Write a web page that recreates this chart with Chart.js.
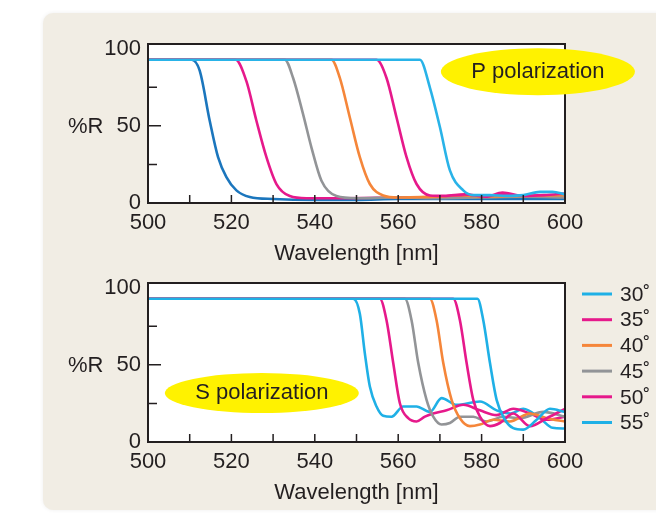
<!DOCTYPE html>
<html>
<head>
<meta charset="utf-8">
<script src="https://cdn.jsdelivr.net/npm/chart.js@4.4.1/dist/chart.umd.min.js"></script>
<style>
  html, body { margin: 0; padding: 0; background: #fff; }
  body { width: 656px; height: 513px; position: relative; overflow: hidden; }
  #panel { position: absolute; left: 43px; top: 13px; width: 640px; height: 497px;
           background: #f1ede4; border-radius: 10px; box-shadow: 0 0 4px rgba(0,0,0,0.07); }
  canvas { position: absolute; left: 0; }
  #pChart { top: 0; }
  #sChart { top: 239px; }
</style>
</head>
<body>
<div id="panel"></div>
<canvas id="pChart" width="656" height="270"></canvas>
<canvas id="sChart" width="656" height="270"></canvas>
<script>
const angles = ["30˚", "35˚", "40˚", "45˚", "50˚", "55˚"];
const xTicks = [500, 520, 540, 560, 580, 600];
const yTicks = [0, 50, 100];

// P polarization, wavelength [nm] and %R per angle
const pWl30 = [500, 565.2, 567.6, 570, 572.4, 575.6, 578, 582, 586, 590, 594, 597, 600];
const pR30  = [92.8, 92.8, 74.8, 49.2, 21.1, 8.2, 5.1, 5.1, 4.6, 5.1, 7.2, 7.2, 5.6];
const pWl35 = [500, 554.8, 557.2, 559.6, 562, 564.4, 567.6, 571, 576, 581, 585, 590, 595, 600];
const pR35  = [92.8, 92.8, 81, 55.4, 29.7, 12.3, 4.9, 4.6, 5.6, 4.1, 6.7, 4.6, 5.1, 6.2];
const pWl40 = [500, 544, 546, 548.4, 550.8, 553.2, 556.4, 560, 570, 575, 580, 590, 600];
const pR40  = [92.8, 92.8, 81, 55.4, 29.7, 12.3, 4.9, 3.6, 4.1, 5.1, 4.1, 4.6, 5.1];
const pWl45 = [500, 532.8, 534.8, 537.2, 539.2, 541.6, 545.2, 550, 560, 570, 580, 590, 600];
const pR45  = [92.8, 92.8, 81, 57.4, 35.9, 14.4, 4.5, 3.1, 3.6, 3.1, 3.6, 4.1, 3.6];
const pWl50 = [500, 521, 523.6, 526, 528.4, 530.8, 534, 538, 545, 560, 575, 585, 592, 600];
const pR50  = [92.8, 92.8, 78.9, 53.3, 29.7, 12.3, 4.5, 3.1, 3.1, 3.6, 4.1, 5.1, 4.1, 5.1];
const pWl55 = [500, 510.5, 512.4, 514.8, 516.8, 518.8, 521.2, 524.4, 530, 540, 550, 560, 570, 580, 590, 600];
const pR55  = [92.8, 92.8, 85.7, 53.3, 29.7, 16.8, 8.2, 3.9, 2.6, 2, 2, 2.6, 2.6, 2.6, 2.6, 2.6];

// S polarization
const sWl30 = [500, 579, 580.4, 582, 583.6, 585.6, 587.6, 590, 593.2, 596.4, 600];
const sR30  = [92.8, 92.8, 78.9, 51.3, 27.3, 14.4, 9, 8, 14.4, 21.5, 19.5];
const sWl35 = [500, 573.2, 574.8, 576.4, 578, 579.6, 582, 584.4, 587.6, 591.6, 595.6, 600];
const sR35  = [92.8, 92.8, 78.9, 51.3, 27.3, 16.4, 10.3, 12.3, 18.5, 10.3, 15.4, 21.5];
const sWl40 = [500, 567.6, 569.2, 570.8, 572.8, 574.8, 577.2, 579.6, 582.8, 586.8, 591.6, 595.6, 600];
const sR40  = [92.8, 92.8, 78.9, 51.3, 27.3, 15.4, 10.3, 11.3, 14.4, 13.3, 18.5, 15.4, 13.3];
const sWl45 = [500, 561.6, 563.2, 564.8, 566.8, 568.4, 570.4, 572.4, 574.8, 578, 581.2, 585.2, 589.2, 594.8, 600];
const sR45  = [92.8, 92.8, 78.9, 51.3, 27.3, 16.4, 11.3, 12.3, 16.4, 16.4, 13.3, 16.4, 15.4, 19.5, 16.4];
const sWl50 = [500, 555.6, 557.2, 558.8, 560.4, 562.4, 564.4, 566.4, 568.4, 571.6, 575.6, 579.6, 583.6, 587.6, 591.6, 595.6, 600];
const sR50  = [92.8, 92.8, 78.9, 51.3, 25.1, 15.4, 13.3, 16.4, 18.5, 20.5, 24.1, 20.5, 17.4, 21.5, 18.5, 14.4, 16.4];
const sWl55 = [500, 549.2, 550.8, 552, 553.2, 554.8, 556.4, 558.4, 561.2, 564.4, 567.6, 570.4, 574, 579.6, 583.6, 587, 590, 594, 597, 600];
const sR55  = [92.8, 92.8, 83, 57.4, 35.9, 23, 17, 16.4, 23, 23, 19.5, 28.4, 24.1, 26.2, 20.5, 18.5, 21.5, 15.4, 9.2, 8.7];

const ink = "#231f20";
const pColors = ["#29b3e8", "#e6198b", "#f5863a", "#929497", "#e6198b", "#1b76bd"];
const sColors = ["#1fb0e6", "#e6198b", "#f5863a", "#929497", "#e6198b", "#1fb0e6"];

Chart.defaults.font.family = '"Liberation Sans", Arial, sans-serif';
Chart.defaults.color = ink;

function series(wl, r) {
    return wl.map((x, i) => ({ x: x, y: r[i] }));
}

// frame, inner ticks, %R label, yellow note and legend
const frame = {
    id: "frame",
    beforeDraw(chart) {
        const a = chart.chartArea;
        chart.ctx.save();
        chart.ctx.fillStyle = "#fff";
        chart.ctx.fillRect(a.left, a.top, a.width, a.height);
        chart.ctx.restore();
    },
    afterDraw(chart, args, opts) {
        const ctx = chart.ctx;
        const a = chart.chartArea;
        const x = chart.scales.x, y = chart.scales.y;
        ctx.save();
        ctx.strokeStyle = ink;
        ctx.lineWidth = 1.5;
        ctx.beginPath();
        [25, 50, 75].forEach(v => {
            const py = y.getPixelForValue(v);
            ctx.moveTo(a.left, py);
            ctx.lineTo(a.left + (v === 50 ? 13 : 9), py);
        });
        for (let v = 510; v < 600; v += 10) {
            const px = x.getPixelForValue(v);
            ctx.moveTo(px, a.bottom);
            ctx.lineTo(px, a.bottom - 8);
        }
        ctx.stroke();
        ctx.lineWidth = 2;
        ctx.strokeRect(a.left, a.top, a.width, a.height);

        ctx.fillStyle = ink;
        ctx.font = '22px "Liberation Sans", Arial';
        ctx.textBaseline = "middle";
        ctx.textAlign = "left";
        ctx.fillText("%R", 68, y.getPixelForValue(50) + 1);

        const cx = x.getPixelForValue(opts.at[0]);
        const cy = y.getPixelForValue(opts.at[1]);
        ctx.fillStyle = "#fff200";
        ctx.beginPath();
        ctx.ellipse(cx, cy, opts.rx, opts.ry, 0, 0, Math.PI * 2);
        ctx.fill();
        ctx.fillStyle = ink;
        ctx.textAlign = "center";
        ctx.fillText(opts.note, cx, cy);

        if (opts.legend) {
            ctx.font = '21px "Liberation Sans", Arial';
            ctx.textAlign = "left";
            ctx.lineWidth = 3;
            chart.data.datasets.forEach((ds, i) => {
                const ry = 55 + i * 25.7;
                ctx.strokeStyle = ds.borderColor;
                ctx.beginPath();
                ctx.moveTo(582, ry);
                ctx.lineTo(612, ry);
                ctx.stroke();
                ctx.fillText(ds.label, 620, ry + 1);
            });
        }
        ctx.restore();
    }
};

function makeChart(id, wls, rs, colors, note) {
    new Chart(document.getElementById(id), {
        type: "line",
        data: {
            datasets: angles.map((label, i) => ({
                label: label,
                data: series(wls[i], rs[i]),
                borderColor: colors[i],
                borderWidth: 2.6,
                pointRadius: 0,
                cubicInterpolationMode: "monotone"
            }))
        },
        options: {
            responsive: false,
            animation: false,
            layout: { padding: { top: 44, right: 91, left: 0, bottom: 0 } },
            scales: {
                x: {
                    type: "linear",
                    min: 500,
                    max: 600,
                    afterBuildTicks: s => { s.ticks = xTicks.map(v => ({ value: v })); },
                    afterFit: s => { s.height = 67; },
                    grid: { display: false, drawTicks: false },
                    border: { display: false },
                    ticks: { color: ink, font: { size: 22 }, padding: 7, maxRotation: 0, autoSkip: false },
                    title: { display: true, text: "Wavelength [nm]", color: ink, font: { size: 22 }, padding: { top: 0, bottom: 3 } }
                },
                y: {
                    min: 0,
                    max: 103,
                    afterBuildTicks: s => { s.ticks = yTicks.map(v => ({ value: v })); },
                    afterFit: s => { s.width = 148; },
                    grid: { display: false, drawTicks: false },
                    border: { display: false },
                    ticks: { color: ink, font: { size: 22 }, padding: 7 }
                }
            },
            plugins: {
                legend: { display: false },
                tooltip: { enabled: false },
                frame: note
            }
        },
        plugins: [frame]
    });
}

makeChart("pChart",
    [pWl30, pWl35, pWl40, pWl45, pWl50, pWl55],
    [pR30, pR35, pR40, pR45, pR50, pR55],
    pColors,
    { note: "P polarization", at: [593.5, 85], rx: 97, ry: 23.5, legend: false });

makeChart("sChart",
    [sWl30, sWl35, sWl40, sWl45, sWl50, sWl55],
    [sR30, sR35, sR40, sR45, sR50, sR55],
    sColors,
    { note: "S polarization", at: [527.3, 31.7], rx: 97, ry: 20, legend: true });
</script>
</body>
</html>
